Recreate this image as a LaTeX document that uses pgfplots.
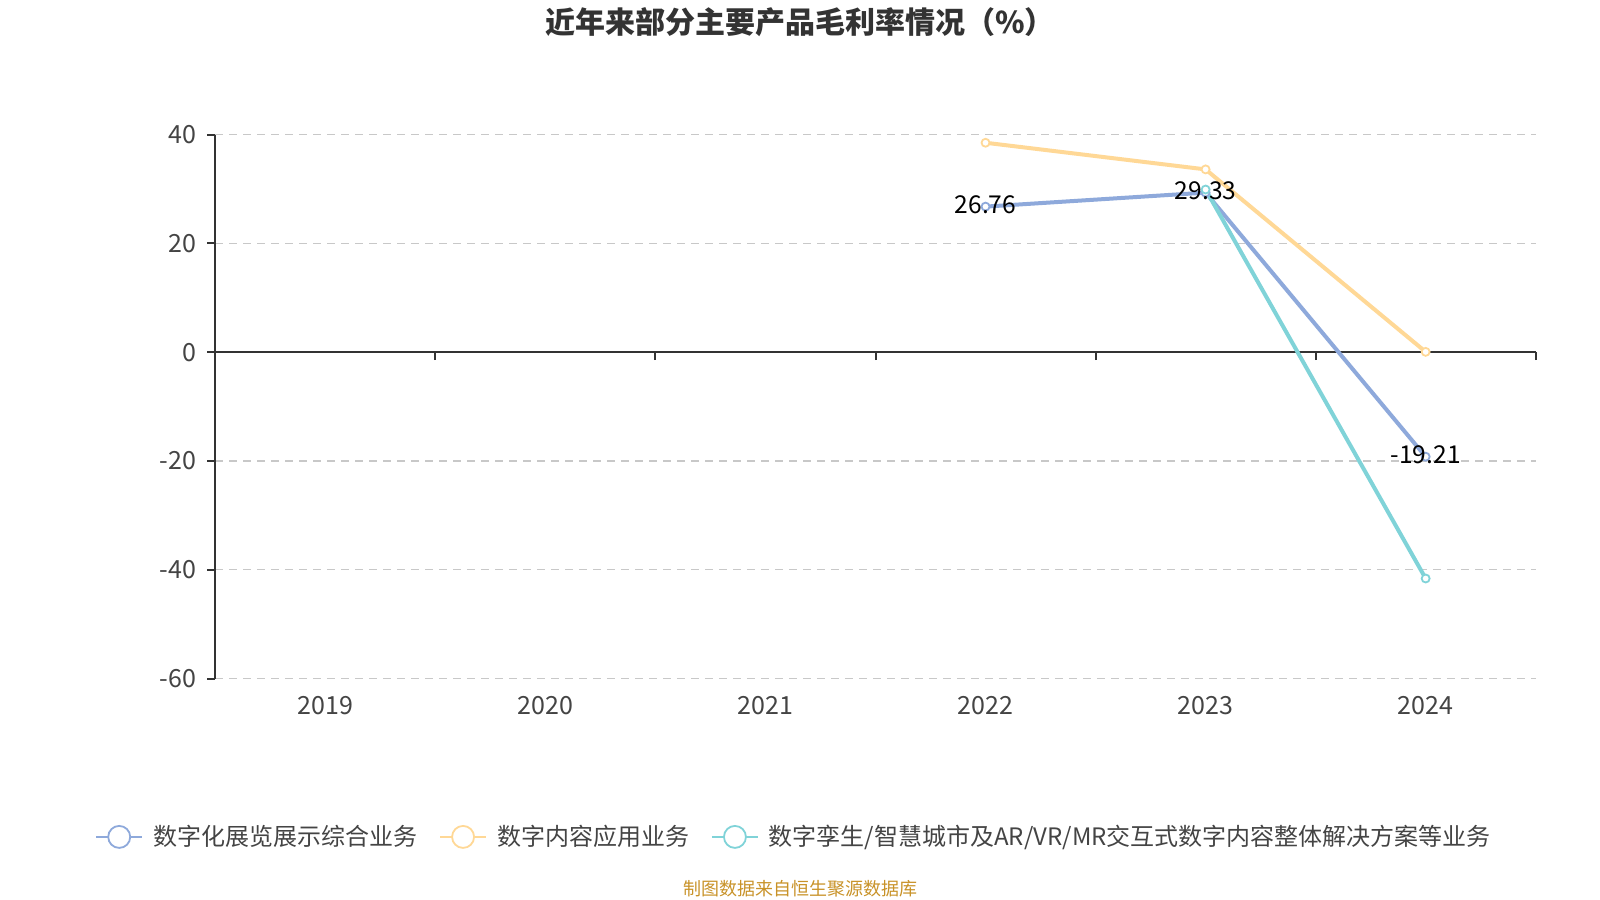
\documentclass[border=0pt]{standalone}
\usepackage{pgfplots}
\pgfplotsset{compat=1.18}
\usepackage{fontspec}
\setmainfont{Noto Sans CJK SC}
\definecolor{cblue}{RGB}{142,169,219}
\definecolor{cyellow}{RGB}{255,216,150}
\definecolor{cteal}{RGB}{128,211,216}
\definecolor{axisc}{RGB}{51,51,51}
\definecolor{gridc}{RGB}{200,200,200}
\definecolor{labc}{RGB}{68,68,68}
\definecolor{titc}{RGB}{51,51,51}
\definecolor{srcc}{RGB}{200,146,40}
\begin{document}
\begin{tikzpicture}
\useasboundingbox (0,0) rectangle (800bp,450bp);
\begin{axis}[
  at={(107.65bp,110.7bp)}, anchor=south west,
  scale only axis, width=660.2bp, height=272bp,
  xmin=-0.5, xmax=5.5, ymin=-60, ymax=40,
  axis y line=left, axis x line=bottom,
  y axis line style={-, draw=axisc, line width=1bp},
  x axis line style={draw=none},
  xtick={0,1,2,3,4,5},
  xticklabels={2019,2020,2021,2022,2023,2024},
  ytick={-60,-40,-20,0,20,40},
  x tick style={draw=none},
  y tick style={draw=axisc, line width=1bp},
  tick align=outside, major tick length=4bp,
  ymajorgrids,
  grid style={draw=gridc, dash pattern=on 4bp off 3bp, line width=0.7bp},
  tick label style={font=\fontsize{12.5bp}{14bp}\selectfont, text=labc},
  /pgf/number format/assume math mode=true,
  xticklabel style={yshift=-1.5bp},
  yticklabel style={xshift=-2bp},
  clip=false,
  legend columns=3,
  legend style={draw=none, fill=none, at={(-0.0957,-0.291)}, anchor=west,
    font=\fontsize{12bp}{14bp}\selectfont, text=labc,
    /tikz/every even column/.append style={column sep=9bp}},
  legend image code/.code={
    \draw[#1, line width=0.9bp] (0bp,0bp) -- (23bp,0bp);
    \draw[#1, line width=0.9bp, fill=white] (11.5bp,0bp) circle (5.5bp);
    \path (25.5bp,0bp);
  },
]
\draw[axisc, line width=1bp] (axis cs:-0.5,0) -- (axis cs:5.5,0);
\pgfplotsinvokeforeach{0.5,1.5,2.5,3.5,4.5,5.5}{
  \draw[axisc, line width=1bp] ([yshift=-4bp]axis cs:#1,0) -- (axis cs:#1,0);
}
\addplot[cblue, line width=2bp, mark=*, mark size=2bp, mark options={fill=white, line width=0.9bp}]
  coordinates {(3,26.76) (4,29.33) (5,-19.21)};
\addlegendentry{数字化展览展示综合业务}
\addplot[cyellow, line width=2bp, mark=*, mark size=2bp, mark options={fill=white, line width=0.9bp}]
  coordinates {(3,38.5) (4,33.6) (5,0.06)};
\addlegendentry{数字内容应用业务}
\addplot[cteal, line width=2bp, mark=*, mark size=2bp, mark options={fill=white, line width=0.9bp}]
  coordinates {(4,29.9) (5,-41.6)};
\addlegendentry{数字孪生/智慧城市及AR/VR/MR交互式数字内容整体解决方案等业务}
\addplot[draw=none, mark=none, forget plot,
  nodes near coords, point meta=explicit symbolic,
  every node near coord/.append style={anchor=center, yshift=1bp, text=black, font=\fontsize{12.3bp}{14bp}\selectfont}]
  coordinates {(3,26.76) [26.76] (4,29.33) [29.33] (5,-19.21) [-19.21]};
\end{axis}
\node[font=\fontsize{15bp}{18bp}\selectfont\bfseries, text=titc] at (400bp,438.8bp) {近年来部分主要产品毛利率情况（\%）};
\node[font=\fontsize{9bp}{11bp}\selectfont, text=srcc] at (400bp,5.8bp) {制图数据来自恒生聚源数据库};
\end{tikzpicture}
\end{document}
